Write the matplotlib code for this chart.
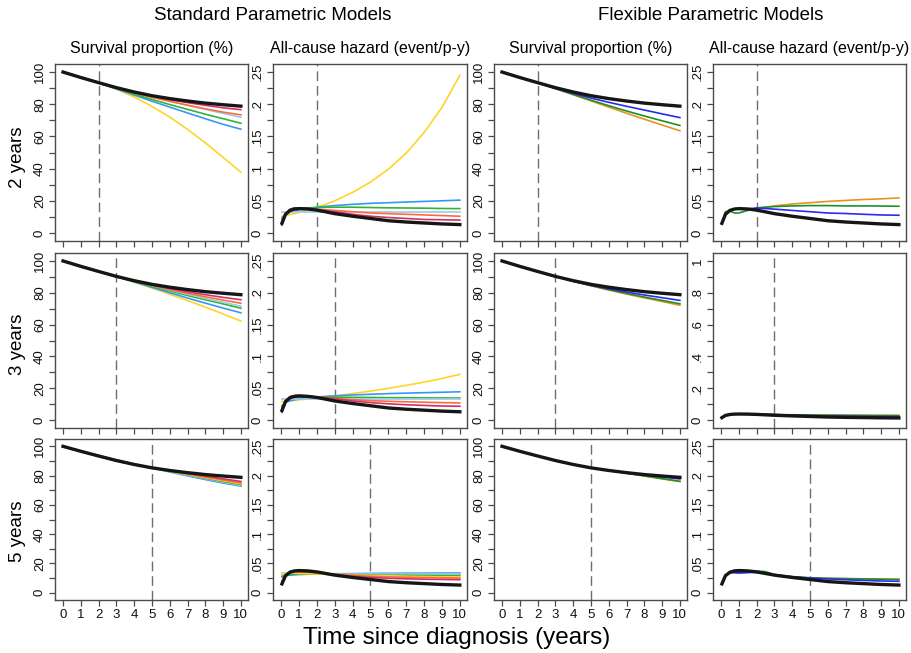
import matplotlib.pyplot as plt
from matplotlib.ticker import MultipleLocator

plt.rcParams['font.family'] = ['Liberation Sans', 'DejaVu Sans']

# time grids (years since diagnosis)
t_surv = [0, 1, 2, 3, 4, 5, 6, 7, 8, 9, 10]
t_haz = [0.05, 0.25, 0.5, 0.75, 1, 1.5, 2, 2.5, 3, 4, 5, 6, 7, 8, 9, 10]

# observed (full follow-up) curves
obs_surv = [100, 96.6, 93.4, 90.3, 87.6, 85.3, 83.5, 82.0, 80.7, 79.7, 78.8]
obs_haz = [.015, .029, .035, .0372, .0378, .0372, .0355, .0328, .030, .026, .0225,
           .019, .017, .0155, .014, .013]

# length of follow-up used to fit each row of models
cutoffs = [2, 3, 5]
row_labels = ['2 years', '3 years', '5 years']

# standard parametric models
std_colors = {'exponential': '#9ccaec', 'weibull': '#3a96f5', 'gompertz': '#ffd42a',
              'gengamma': '#33b433', 'loglogistic': '#ff6a3d', 'lognormal': '#cc3366'}

std_surv_2y = {
    'gompertz':    [100, 96.8, 93.4, 89.4, 84.5, 78.7, 72.0, 64.4, 56.0, 47.0, 37.7],
    'weibull':     [100, 96.9, 93.3, 89.5, 85.7, 81.9, 78.2, 74.6, 71.0, 67.5, 64.5],
    'gengamma':    [100, 96.7, 93.4, 89.8, 86.3, 83.0, 79.8, 76.8, 73.8, 71.0, 68.2],
    'exponential': [100, 96.8, 93.6, 90.5, 87.6, 84.7, 82.0, 79.3, 76.8, 74.3, 71.9],
    'loglogistic': [100, 96.7, 93.4, 90.1, 87.1, 84.3, 81.8, 79.4, 77.2, 75.1, 73.4],
    'lognormal':   [100, 96.7, 93.4, 90.2, 87.4, 85.0, 82.9, 81.0, 79.3, 77.8, 76.6],
}
std_haz_2y = {
    'gompertz':    [.0258, .027, .0285, .030, .032, .0356, .040, .0446, .050, .063, .079,
                    .099, .124, .156, .195, .245],
    'weibull':     [.023, .029, .032, .034, .036, .038, .040, .0413, .0425, .0445, .046,
                    .047, .048, .049, .050, .051],
    'gengamma':    [.020, .030, .035, .037, .038, .039, .0395, .0398, .040, .040, .0395,
                    .039, .0388, .0385, .038, .0378],
    'exponential': [.033, .033, .033, .033, .033, .033, .033, .033, .033, .033, .033,
                    .033, .033, .033, .033, .033],
    'loglogistic': [.018, .030, .035, .037, .038, .038, .037, .036, .035, .033, .031,
                    .030, .029, .028, .027, .026],
    'lognormal':   [.012, .030, .037, .039, .039, .038, .036, .0345, .033, .029, .026,
                    .024, .0225, .021, .0205, .020],
}

std_surv_3y = {
    'gompertz':    [100, 97.0, 93.7, 90.2, 86.7, 83.0, 79.1, 75.1, 71.0, 66.7, 62.2],
    'weibull':     [100, 96.8, 93.3, 90.2, 86.8, 83.4, 80.0, 76.7, 73.5, 70.4, 67.4],
    'gengamma':    [100, 96.7, 93.4, 90.2, 87.0, 84.0, 81.1, 78.3, 75.6, 73.0, 70.3],
    'exponential': [100, 96.7, 93.5, 90.5, 87.5, 84.6, 81.8, 79.1, 76.5, 74.0, 71.6],
    'loglogistic': [100, 96.7, 93.4, 90.2, 87.3, 84.6, 82.1, 79.7, 77.5, 75.4, 73.4],
    'lognormal':   [100, 96.7, 93.4, 90.2, 87.4, 84.9, 82.7, 80.6, 78.8, 77.1, 75.6],
}
std_haz_3y = {
    'gompertz':    [.029, .0295, .030, .031, .0318, .033, .0347, .036, .038, .0416, .0455,
                    .0498, .0545, .0596, .0653, .0718],
    'weibull':     [.0224, .0276, .0302, .0318, .033, .0347, .0361, .0372, .038, .0394, .0405,
                    .0415, .0423, .043, .0437, .0444],
    'gengamma':    [.020, .030, .034, .035, .036, .0365, .0365, .0362, .036, .0357, .0355,
                    .0352, .035, .0348, .0347, .0346],
    'exponential': [.0334, .0334, .0334, .0334, .0334, .0334, .0334, .0334, .0334, .0334,
                    .0334, .0334, .0334, .0334, .0334, .0334],
    'loglogistic': [.018, .030, .035, .0365, .037, .037, .036, .035, .034, .032, .0305,
                    .0295, .0287, .028, .0274, .0269],
    'lognormal':   [.012, .030, .037, .0385, .039, .038, .036, .035, .0335, .030, .0275,
                    .0255, .024, .023, .022, .0217],
}

std_surv_5y = {
    'weibull':     [100, 96.8, 93.6, 90.4, 87.6, 85.2, 82.5, 79.8, 77.3, 74.9, 72.8],
    'exponential': [100, 96.9, 93.8, 90.8, 88.0, 85.4, 82.8, 80.3, 77.9, 75.5, 73.2],
    'gengamma':    [100, 96.8, 93.6, 90.6, 87.9, 85.4, 83.0, 80.6, 78.2, 76.0, 73.8],
    'gompertz':    [100, 96.7, 93.5, 90.4, 87.7, 85.4, 83.1, 80.8, 78.6, 76.5, 74.4],
    'loglogistic': [100, 96.6, 93.2, 90.1, 87.5, 85.4, 83.3, 81.1, 79.0, 77.0, 75.0],
    'lognormal':   [100, 96.5, 93.1, 90.0, 87.4, 85.3, 83.5, 81.5, 79.6, 77.8, 76.0],
}
std_haz_5y = {
    'weibull':     [.027, .029, .030, .0305, .031, .0315, .0318, .032, .0323, .0326, .0329,
                    .0331, .0333, .0334, .0335, .0336],
    'exponential': [.0313, .0313, .0313, .0313, .0313, .0313, .0313, .0313, .0313, .0313,
                    .0313, .0313, .0313, .0313, .0313, .0313],
    'gengamma':    [.028, .029, .031, .0315, .032, .032, .032, .0315, .031, .0305, .030,
                    .0298, .0296, .0294, .0292, .0291],
    'gompertz':    [.034, .0338, .0336, .0334, .033, .0325, .032, .0315, .031, .030, .0295,
                    .029, .028, .0275, .027, .0267],
    'loglogistic': [.020, .030, .034, .035, .035, .035, .034, .033, .0315, .0295, .028,
                    .027, .0263, .0258, .0254, .025],
    'lognormal':   [.015, .030, .036, .037, .037, .036, .035, .033, .031, .028, .026,
                    .0245, .0237, .023, .0226, .0222],
}

# flexible parametric models
fpm_colors = {'fpm1': '#2a2af0', 'fpm2': '#1f8f2a', 'fpm3': '#e8921e'}

fpm_surv_2y = {
    'fpm3': [100, 96.6, 93.4, 89.7, 85.9, 82.1, 78.2, 74.4, 70.7, 67.1, 63.5],
    'fpm2': [100, 96.7, 93.4, 89.7, 86.1, 82.5, 79.1, 75.8, 72.7, 69.7, 66.8],
    'fpm1': [100, 96.6, 93.4, 89.9, 86.7, 83.8, 81.2, 78.7, 76.4, 74.0, 71.7],
}
fpm_haz_2y = {
    'fpm3': [.015, .029, .035, .0372, .0378, .037, .038, .040, .042, .045, .047,
             .049, .0505, .052, .053, .0545],
    'fpm2': [.015, .033, .034, .031, .031, .035, .039, .040, .041, .042, .0425,
             .0425, .042, .042, .0418, .0415],
    'fpm1': [.015, .029, .035, .0372, .0378, .0375, .0385, .038, .037, .035, .033,
             .031, .0302, .029, .028, .0275],
}

fpm_surv_3y = {
    'fpm3': [100, 96.6, 93.4, 90.3, 87.2, 84.4, 81.7, 79.2, 76.8, 74.5, 72.2],
    'fpm2': [100, 96.6, 93.4, 90.3, 87.2, 84.5, 82.0, 79.6, 77.3, 75.2, 73.1],
    'fpm1': [100, 96.6, 93.4, 90.3, 87.3, 84.8, 82.5, 80.5, 78.6, 76.9, 75.2],
}
fpm_haz_3y = {
    'fpm3': [.015, .029, .035, .0372, .0378, .0372, .0355, .035, .0345, .0335, .0325,
             .0318, .031, .0305, .030, .0295],
    'fpm2': [.015, .029, .035, .0372, .0378, .0372, .0355, .035, .034, .0325, .031,
             .030, .029, .0285, .028, .0275],
    'fpm1': [.015, .029, .035, .0372, .0378, .0372, .0355, .035, .034, .031, .028,
             .026, .024, .023, .022, .021],
}

fpm_surv_5y = {
    'fpm3': [100, 96.6, 93.4, 90.3, 87.6, 85.3, 83.5, 81.6, 79.7, 77.8, 75.9],
    'fpm2': [100, 96.6, 93.3, 90.1, 87.5, 85.3, 83.5, 81.6, 79.8, 77.9, 76.1],
    'fpm1': [100, 96.6, 93.4, 90.3, 87.6, 85.3, 83.7, 82.0, 80.5, 79.1, 77.7],
}
fpm_haz_5y = {
    'fpm3': [.015, .029, .035, .0372, .0378, .0372, .0355, .033, .030, .027, .024,
             .0245, .024, .0237, .0233, .023],
    'fpm2': [.015, .030, .035, .035, .0345, .0345, .037, .036, .031, .0275, .0255,
             .0245, .024, .0235, .023, .0225],
    'fpm1': [.015, .030, .034, .034, .0335, .0345, .0345, .0325, .030, .027, .025,
             .0235, .022, .021, .020, .0195],
}

surv_ticks = [0, 20, 40, 60, 80, 100]
haz_ticks = [0, .05, .1, .15, .2, .25]
haz_ticklabels = ['0', '.05', '.1', '.15', '.2', '.25']
wide_haz_ticks = [0, .2, .4, .6, .8, 1]
wide_haz_ticklabels = ['0', '.2', '.4', '.6', '.8', '1']

col_titles = ['Survival proportion (%)', 'All-cause hazard (event/p-y)',
              'Survival proportion (%)', 'All-cause hazard (event/p-y)']

W, H = 911, 653
fig = plt.figure(figsize=(W / 100, H / 100), dpi=100)

# panel frames in pixels
col_px = [(55, 248), (273, 467), (494, 687), (713, 906)]
row_px = [(64, 241), (253, 428), (439, 600)]
row_label_y = [157, 344, 531]

frame_col = '#4a4a4a'

rows = [
    (std_surv_2y, std_haz_2y, fpm_surv_2y, fpm_haz_2y),
    (std_surv_3y, std_haz_3y, fpm_surv_3y, fpm_haz_3y),
    (std_surv_5y, std_haz_5y, fpm_surv_5y, fpm_haz_5y),
]

for r, (s_surv, s_haz, f_surv, f_haz) in enumerate(rows):
    cut = cutoffs[r]
    panels = [(s_surv, 'surv', std_colors), (s_haz, 'haz', std_colors),
              (f_surv, 'surv', fpm_colors), (f_haz, 'haz', fpm_colors)]
    for c, (curves, kind, colors) in enumerate(panels):
        x0, x1 = col_px[c]
        y0, y1 = row_px[r]
        ax = fig.add_axes([x0 / W, 1 - y1 / H, (x1 - x0) / W, (y1 - y0) / H])

        t = t_surv if kind == 'surv' else t_haz
        obs = obs_surv if kind == 'surv' else obs_haz
        for name, vals in curves.items():
            ax.plot(t, vals, color=colors[name], lw=1.2, zorder=2)
        ax.plot(t, obs, color='#161616', lw=2.4, zorder=3)
        ax.axvline(cut, color='#6e6e6e', lw=1.0, dashes=(7, 3.5), zorder=1)

        ax.set_xlim(-0.45, 10.4)
        ax.set_xticks(range(0, 11))
        if kind == 'surv':
            ax.set_ylim(-5, 105)
            ax.set_yticks(surv_ticks)
            ax.yaxis.set_minor_locator(MultipleLocator(10))
        elif c == 3 and r == 1:
            ax.set_ylim(-0.05, 1.05)
            ax.set_yticks(wide_haz_ticks, wide_haz_ticklabels)
            ax.yaxis.set_minor_locator(MultipleLocator(0.1))
        else:
            ax.set_ylim(-0.0125, 0.2625)
            ax.set_yticks(haz_ticks, haz_ticklabels)
            ax.yaxis.set_minor_locator(MultipleLocator(0.025))

        for sp in ax.spines.values():
            sp.set_color(frame_col)
            sp.set_linewidth(1.0)
        ax.tick_params(which='both', direction='out', color=frame_col, width=0.9,
                       length=4.5, labelsize=9.5, labelcolor='#111111', pad=2)
        ax.tick_params(axis='x', labelbottom=(r == 2))
        for lab in ax.get_yticklabels():
            lab.set_rotation(90)
            lab.set_va('center')

        if r == 0:
            fig.text((x0 + x1) / 2 / W, 1 - 48 / H, col_titles[c],
                     ha='center', va='center', fontsize=11.5)

    fig.text(18 / W, 1 - row_label_y[r] / H, row_labels[r], rotation=90,
             ha='center', va='center', fontsize=13.5)

fig.text(273 / W, 1 - 16 / H, 'Standard Parametric Models', ha='center', va='center',
         fontsize=13.5)
fig.text(711 / W, 1 - 16 / H, 'Flexible Parametric Models', ha='center', va='center',
         fontsize=13.5)
fig.text(457 / W, 1 - 638 / H, 'Time since diagnosis (years)', ha='center', va='center',
         fontsize=17.5)

fig.savefig('out.png', dpi=100, facecolor='white')
